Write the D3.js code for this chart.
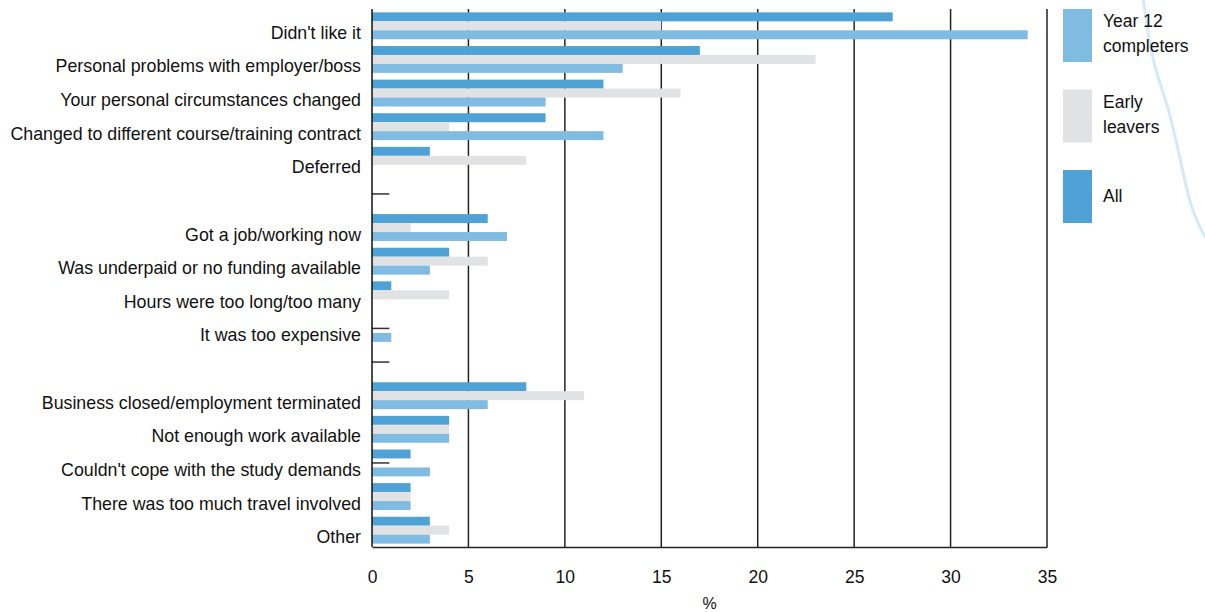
<!DOCTYPE html>
<html>
<head>
<meta charset="utf-8">
<script src="https://cdn.jsdelivr.net/npm/d3@7"></script>
<style>
  body { margin: 0; background: #fff; }
  text { font-family: "Liberation Sans Narrow", "Liberation Sans", sans-serif; fill: #111; }
</style>
</head>
<body>
<div id="chart"></div>
<script>
// categories top to bottom, "gap" slots are empty rows
var categories = ["Didn't like it", "Personal problems with employer/boss", "Your personal circumstances changed",
  "Changed to different course/training contract", "Deferred", "gap1",
  "Got a job/working now", "Was underpaid or no funding available", "Hours were too long/too many",
  "It was too expensive", "gap2",
  "Business closed/employment terminated", "Not enough work available", "Couldn't cope with the study demands",
  "There was too much travel involved", "Other"];

var allValues   = [27, 17, 12, 9, 3, null, 6, 4, 1, 0, null, 8, 4, 2, 2, 3];
var earlyValues = [15, 23, 16, 4, 8, null, 2, 6, 4, 0, null, 11, 4, 0, 2, 4];
var y12Values   = [34, 13, 9, 12, 0, null, 7, 3, 0, 1, null, 6, 4, 3, 2, 3];

// rows that carry a short stub tick on the zero line
var stubRows = ["gap1", "It was too expensive", "gap2", "Couldn't cope with the study demands"];

var seriesNames = ["All", "Early leavers", "Year 12 completers"];
var legendLabels = [["Year 12", "completers"], ["Early", "leavers"], ["All"]];
var xTicks = [0, 5, 10, 15, 20, 25, 30, 35];

var colors = {"All": "#4ea2d6", "Early leavers": "#e1e2e4", "Year 12 completers": "#80bce1"};

var width = 1205, height = 612;
var margin = {top: 9, left: 372, right: 158, bottom: 65};

var svg = d3.select("#chart").append("svg")
  .attr("width", width)
  .attr("height", height);

// decorative curve at the right edge
var curvePts = [[1143, -2], [1153, 67], [1167, 100], [1182, 167], [1190, 205], [1200, 228], [1207, 240]];
svg.append("path")
  .attr("d", d3.line().curve(d3.curveBasis)(curvePts))
  .attr("fill", "none")
  .attr("stroke", "#d5e9f6")
  .attr("stroke-width", 3);

var x = d3.scaleLinear()
  .domain([0, 35])
  .range([margin.left, width - margin.right]);

var y = d3.scaleBand()
  .domain(categories)
  .range([margin.top, height - margin.bottom])
  .paddingInner(0.2)
  .paddingOuter(0.1);

var sub = d3.scaleBand()
  .domain(seriesNames)
  .range([0, y.bandwidth()]);

var rows = categories.map(function(c, i) {
  return {cat: c, values: [
    {s: "All", v: allValues[i]},
    {s: "Early leavers", v: earlyValues[i]},
    {s: "Year 12 completers", v: y12Values[i]}
  ]};
});

// gridlines
svg.append("g")
  .selectAll("line")
  .data(xTicks.slice(1))
  .enter()
  .append("line")
    .attr("x1", function(d) { return x(d); })
    .attr("x2", function(d) { return x(d); })
    .attr("y1", margin.top)
    .attr("y2", height - margin.bottom)
    .attr("stroke", "#222")
    .attr("stroke-width", 1.5);

// bars
svg.append("g")
  .selectAll("g")
  .data(rows.filter(function(r) { return r.values[0].v !== null; }))
  .enter()
  .append("g")
    .attr("transform", function(d) { return "translate(0," + y(d.cat) + ")"; })
  .selectAll("rect")
  .data(function(d) { return d.values; })
  .enter()
  .append("rect")
    .attr("x", x(0))
    .attr("y", function(d) { return sub(d.s); })
    .attr("width", function(d) { return x(d.v) - x(0); })
    .attr("height", sub.bandwidth())
    .attr("fill", function(d) { return colors[d.s]; });

// stub ticks
svg.append("g")
  .selectAll("line")
  .data(stubRows)
  .enter()
  .append("line")
    .attr("x1", x(0))
    .attr("x2", x(0.9))
    .attr("y1", function(d) { return y(d) + y.bandwidth() / 2; })
    .attr("y2", function(d) { return y(d) + y.bandwidth() / 2; })
    .attr("stroke", "#333")
    .attr("stroke-width", 1.5);

// zero line and bottom axis
svg.append("line")
  .attr("x1", x(0)).attr("x2", x(0))
  .attr("y1", margin.top).attr("y2", height - margin.bottom)
  .attr("stroke", "#111").attr("stroke-width", 1.5);

var xAxis = svg.append("g")
  .attr("transform", "translate(0," + (height - margin.bottom) + ")")
  .call(d3.axisBottom(x).tickValues(xTicks).tickSize(0).tickPadding(24));
xAxis.select(".domain").attr("stroke", "#222").attr("stroke-width", 1.5);
xAxis.selectAll("text")
  .attr("font-family", "'Liberation Sans Narrow', 'Liberation Sans', sans-serif")
  .attr("font-size", 17.5)
  .attr("fill", "#111");

svg.append("text")
  .attr("x", x(17.5))
  .attr("y", 609)
  .attr("text-anchor", "middle")
  .attr("font-size", 16)
  .text("%");

// category labels
svg.append("g")
  .selectAll("text")
  .data(categories.filter(function(c) { return c.indexOf("gap") !== 0; }))
  .enter()
  .append("text")
    .attr("x", x(0) - 11)
    .attr("y", function(d) { return y(d) + y.bandwidth() / 2 + 13; })
    .attr("text-anchor", "end")
    .attr("font-size", 17.8)
    .text(function(d) { return d; });

// legend
var legendSeries = ["Year 12 completers", "Early leavers", "All"];
var leg = svg.append("g")
  .selectAll("g")
  .data(legendSeries)
  .enter()
  .append("g")
    .attr("transform", function(d, i) { return "translate(1063," + (9 + i * 80.5) + ")"; });
leg.append("rect")
  .attr("width", 29)
  .attr("height", 53)
  .attr("fill", function(d) { return colors[d]; });
leg.each(function(d, i) {
  var lines = legendLabels[i];
  var g = d3.select(this);
  lines.forEach(function(l, j) {
    g.append("text")
      .attr("x", 40)
      .attr("y", (lines.length === 1 ? 32 : 18) + j * 25)
      .attr("font-size", 17.5)
      .text(l);
  });
});
</script>
</body>
</html>
